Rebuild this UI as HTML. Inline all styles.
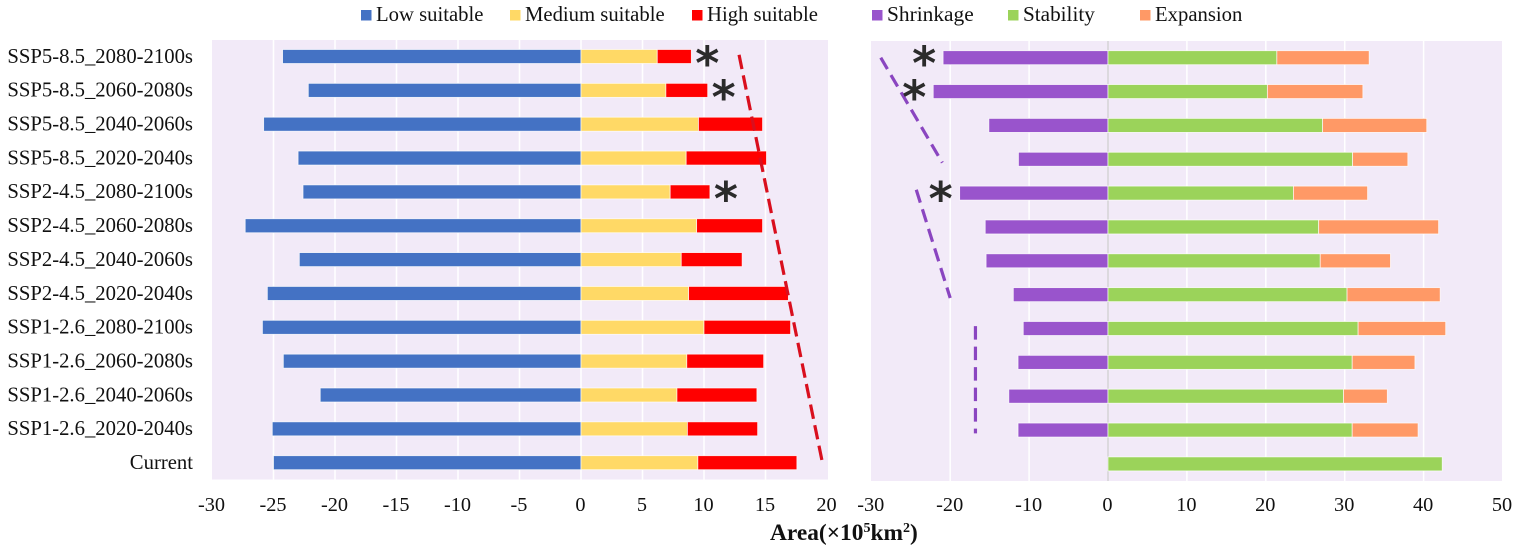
<!DOCTYPE html>
<html lang="en">
<head>
<meta charset="utf-8">
<title>Suitable area and range change by climate scenario</title>
<style>
html,body{margin:0;padding:0;background:#fff;width:1535px;height:552px;overflow:hidden}
svg{display:block}
text{font-family:"Liberation Serif","Times New Roman",serif;fill:#111}
</style>
</head>
<body>
<svg id="chart" xmlns="http://www.w3.org/2000/svg" width="1535" height="552" viewBox="0 0 1535 552"></svg>
<script>
const categories = ["SSP5-8.5_2080-2100s","SSP5-8.5_2060-2080s","SSP5-8.5_2040-2060s","SSP5-8.5_2020-2040s","SSP2-4.5_2080-2100s","SSP2-4.5_2060-2080s","SSP2-4.5_2040-2060s","SSP2-4.5_2020-2040s","SSP1-2.6_2080-2100s","SSP1-2.6_2060-2080s","SSP1-2.6_2040-2060s","SSP1-2.6_2020-2040s","Current"];
const lowSuitable = [-24.26,-22.17,-25.8,-23.0,-22.6,-27.3,-22.9,-25.5,-25.9,-24.2,-21.2,-25.1,-25.0];
const mediumSuitable = [6.2,6.9,9.55,8.55,7.25,9.4,8.15,8.75,10.0,8.6,7.8,8.65,9.5];
const highSuitable = [2.77,3.4,5.21,6.53,3.23,5.36,4.95,8.11,7.04,6.25,6.5,5.71,8.05];
const shrinkage = [-20.9,-22.15,-15.1,-11.35,-18.8,-15.56,-15.45,-12.0,-10.74,-11.4,-12.57,-11.4,0];
const stability = [21.4,20.2,27.2,31.0,23.5,26.7,26.9,30.3,31.7,30.95,29.85,30.95,42.36];
const expansion = [11.7,12.1,13.2,7.0,9.4,15.2,8.9,11.8,11.1,7.95,5.55,8.35,0];
const leftTicks = [-30,-25,-20,-15,-10,-5,0,5,10,15,20];
const rightTicks = [-30,-20,-10,0,10,20,30,40,50];
const starRows = [0,1,4];
const redTrendValues = [12.85,19.6];
const redTrendRows = [-0.05,11.95];
const purpleTrendAValues = [-28.8,-21.0];
const purpleTrendARows = [0,3.1];
const purpleTrendBValues = [-24.3,-20.0];
const purpleTrendBRows = [3.9,7.1];
const purpleTrendCValues = [-16.8,-16.8];
const purpleTrendCRows = [7.93,11.1];

const NS = "http://www.w3.org/2000/svg";
const svg = document.getElementById("chart");
function mk(tag, attrs, parent, txt) {
  const e = document.createElementNS(NS, tag);
  for (const k in attrs) e.setAttribute(k, attrs[k]);
  if (txt !== undefined) e.textContent = txt;
  (parent || svg).appendChild(e);
  return e;
}
const BAR_H = 14;
const STEP = 33.85;
const leftPlot = {x0:212, x1:828, y0:40, y1:479.5, zero:581, unit:12.3, firstRow:56.5};
const rightPlot = {x0:871, x1:1502, y0:41, y1:481, zero:1108, unit:7.89, firstRow:57.7};
const xScale = (p, v) => p.zero + v * p.unit;
const yScale = (p, r) => p.firstRow + r * STEP;

function drawPlot(p, ticks, name) {
  const bg = mk("rect", {x:p.x0, y:p.y0, width:p.x1-p.x0, height:p.y1-p.y0, fill:"#F2EAF8"});
  
  
  ticks.forEach(t => {
    const x = xScale(p, t);
    if (t > ticks[0] && t < ticks[ticks.length-1]) {
      const g = mk("line", {x1:x, x2:x, y1:p.y0, y2:p.y1, stroke:"#FFFFFF", "stroke-width":1.5});
      
      
    }
    const l = mk("text", {x:x-0.5, y:511, "text-anchor":"middle", "font-size":20.3}, svg, String(t));
    
    
  });
}
function drawBar(p, r, a, b, fill, name) {
  if (a === b) return;
  const xa = xScale(p, Math.min(a,b)), xb = xScale(p, Math.max(a,b));
  const y = yScale(p, r);
  const e = mk("rect", {x:xa, y:y-BAR_H/2, width:xb-xa, height:BAR_H, fill:fill, stroke:"#FFFFFF", "stroke-width":0.8, "stroke-opacity":0.8});
  
  
}
function drawTrend(p, vals, rows, color, dash, name) {
  const e = mk("line", {x1:xScale(p,vals[0]), y1:yScale(p,rows[0]), x2:xScale(p,vals[1]), y2:yScale(p,rows[1]), stroke:color, "stroke-width":3.2, "stroke-dasharray":dash});
  
  
}
function drawStar(x, y) {
  const e = mk("text", {x:x, y:y+23, "text-anchor":"middle", "font-size":46, "font-weight":"bold", style:"font-family:'DejaVu Sans',sans-serif;fill:#2b2b2b"}, svg, "*");
  
  
}

drawPlot(leftPlot, leftTicks, "left");
drawPlot(rightPlot, rightTicks, "right");

const zeroAxis = mk("line", {x1:rightPlot.zero, x2:rightPlot.zero, y1:rightPlot.y0, y2:rightPlot.y1, stroke:"#D2D0D4", "stroke-width":1.5});



categories.forEach((c, r) => {
  const lab = mk("text", {x:193, y:yScale(leftPlot,r)+6.3, "text-anchor":"end", "font-size":20.7}, svg, c);
  
  
  drawBar(leftPlot, r, lowSuitable[r], 0, "#4472C4", "bar-low-suitable");
  drawBar(leftPlot, r, 0, mediumSuitable[r], "#FFD966", "bar-medium-suitable");
  drawBar(leftPlot, r, mediumSuitable[r], mediumSuitable[r]+highSuitable[r], "#FF0000", "bar-high-suitable");
  drawBar(rightPlot, r, shrinkage[r], 0, "#9954CC", "bar-shrinkage");
  drawBar(rightPlot, r, 0, stability[r], "#9BD35A", "bar-stability");
  drawBar(rightPlot, r, stability[r], stability[r]+expansion[r], "#FF9966", "bar-expansion");
});

drawTrend(leftPlot, redTrendValues, redTrendRows, "#D90F1E", "14.5 6.5", "red-trend-line");
drawTrend(rightPlot, purpleTrendAValues, purpleTrendARows, "#8A45C0", "13.2 6.9", "purple-trend-line-upper");
drawTrend(rightPlot, purpleTrendBValues, purpleTrendBRows, "#8A45C0", "13.5 7", "purple-trend-line-middle");
drawTrend(rightPlot, purpleTrendCValues, purpleTrendCRows, "#8A45C0", "13.5 7", "purple-trend-line-lower");

starRows.forEach(r => {
  drawStar(xScale(leftPlot, mediumSuitable[r]+highSuitable[r]) + 16, yScale(leftPlot, r));
  drawStar(xScale(rightPlot, shrinkage[r]) - 19, yScale(rightPlot, r) - 1);
});

const legendLabels = ["Low suitable","Medium suitable","High suitable","Shrinkage","Stability","Expansion"];
const legendColors = ["#4472C4","#FFD966","#FF0000","#9954CC","#9BD35A","#FF9966"];
const legendSwatchX = [361,510,692,872,1008,1140];
const legendFontSize = [20.7,20.7,20.7,21.4,21.2,20.7];
legendLabels.forEach((t, i) => {
  const s = mk("rect", {x:legendSwatchX[i], y:10, width:10.5, height:10.5, fill:legendColors[i]});
  
  
  const l = mk("text", {x:legendSwatchX[i]+15, y:21, "font-size":legendFontSize[i]}, svg, t);
  
  
});

const title = mk("text", {x:770, y:540, "font-size":23.4, "font-weight":"bold"});


mk("tspan", {}, title, "Area(×10");
mk("tspan", {dy:-8, "font-size":14}, title, "5");
mk("tspan", {dy:8}, title, "km");
mk("tspan", {dy:-8, "font-size":14}, title, "2");
mk("tspan", {dy:8}, title, ")");
</script>
</body>
</html>
